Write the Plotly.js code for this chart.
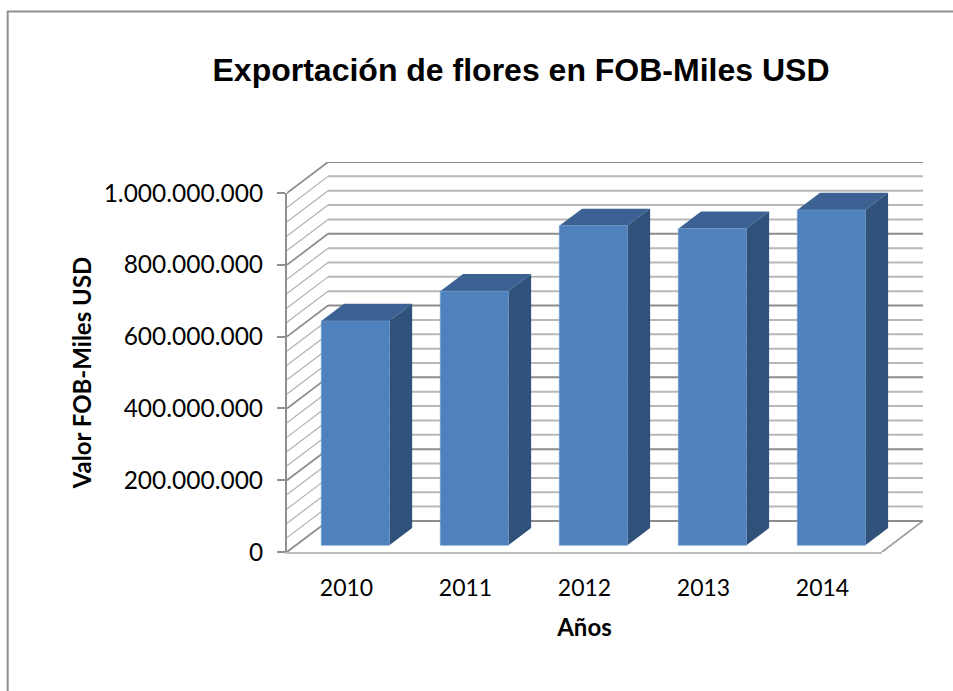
<!DOCTYPE html>
<html><head><meta charset="utf-8">
<script src="https://cdn.plot.ly/plotly-3.0.1.min.js"></script>
<style>html,body{margin:0;padding:0;background:#fff}#c{width:953px;height:691px}</style>
</head><body><div id="c"></div>
<script>
const years = ['2010','2011','2012','2013','2014'];
const values = [625000000, 708000000, 890000000, 882000000, 934000000];
const yTicks = [0,200000000,400000000,600000000,800000000,1000000000];
const yTickText = ['0','200.000.000','400.000.000','600.000.000','800.000.000','1.000.000.000'];
const chartTitle = 'Exportación de flores en FOB-Miles USD';
const yTitle = 'Valor FOB-Miles USD';
const xTitle = 'Años';
const gridStep = 40000000;

// oblique projection: how the depth axis maps onto the front-plane axes
const W=953,H=691, L=287,RF=881.7,RB=922.7,TF=193.3,TB=162.3,B=551.7;
const depthX = 0.345, depthY = 86500000;
const barFront = 0.215, barBack = 0.77, barWidth = 0.572;
const xMin=-0.5, xMax=4.5, yMax=1000000000;

const lf = (arr)=>{const x=[],y=[];arr.forEach(s=>{s.forEach(p=>{x.push(p[0]);y.push(p[1]);});x.push(null);y.push(null);});return {x,y};};
const levels=[];for(let i=0;i<=25;i++)levels.push(i*gridStep);
const isMajor=v=>v%200000000===0;
const diag=v=>[[xMin,v],[xMin+depthX,v+depthY]];
const back=v=>[[xMin+depthX,v+depthY],[xMax+depthX,v+depthY]];
function lineTrace(segs,color,width){const d=lf(segs);return {x:d.x,y:d.y,mode:'lines',type:'scatter',line:{color,width},hoverinfo:'skip',showlegend:false,xaxis:'x',yaxis:'y'};}

const minor=levels.filter(v=>!isMajor(v)), major=levels.filter(isMajor);
const traces=[
  lineTrace(minor.map(diag),'#b0b0b0',1.2),
  lineTrace(minor.map(back),'#b8b8b8',2),
  lineTrace(major.map(diag),'#8f8f8f',1.8),
  lineTrace(major.map(back),'#8c8c8c',2),
  lineTrace([[[xMax,0],[xMax+depthX,depthY]]],'#a0a0a0',1.8)
];
const xf=i=>i-barWidth/2+barFront*depthX;
const base=barFront*depthY, dd=barBack-barFront;
values.forEach((v,i)=>{
  const xl=xf(i),xr=xl+barWidth,top=v+base;
  traces.push({type:'scatter',mode:'lines',fill:'toself',fillcolor:'#3b6292',line:{width:0,color:'#3b6292'},hoverinfo:'skip',showlegend:false,
    x:[xl,xr,xr+dd*depthX,xl+dd*depthX,xl],y:[top,top,top+dd*depthY,top+dd*depthY,top]});
  traces.push({type:'scatter',mode:'lines',fill:'toself',fillcolor:'#305179',line:{width:0,color:'#305179'},hoverinfo:'skip',showlegend:false,
    x:[xr,xr+dd*depthX,xr+dd*depthX,xr,xr],y:[base,base+dd*depthY,top+dd*depthY,top,base]});
});
traces.push({type:'bar',x:years.map((_,i)=>i+barFront*depthX),y:values,base:years.map(()=>base),width:barWidth,
  marker:{color:'#4f81bd',line:{color:'#6f9bd0',width:0.6}},xaxis:'x2',yaxis:'y2',hoverinfo:'skip',showlegend:false});

const px=p=>(p-L)/(RB-L), py=p=>(B-p)/(B-TB);
const frame={color:'#8f8f8f',width:2};
const layout={
  width:W,height:H,margin:{l:L,r:W-RB,t:TB,b:H-B,pad:0},paper_bgcolor:'#fff',plot_bgcolor:'rgba(0,0,0,0)',showlegend:false,
  title:{text:'<b>'+chartTitle+'</b>',font:{family:'Liberation Sans',size:32,color:'#000'},x:521/W,xanchor:'center',xref:'container',y:1-70/H,yanchor:'middle',yref:'container'},
  xaxis:{range:[xMin,xMax+depthX],domain:[0,1],visible:false,fixedrange:true},
  yaxis:{range:[0,yMax+depthY],domain:[0,1],visible:false,fixedrange:true},
  xaxis2:{range:[xMin,xMax],domain:[0,px(RF)],anchor:'y2',tickmode:'array',tickvals:years.map((_,i)=>i),ticktext:years,ticks:'',showgrid:false,zeroline:false,showline:true,linecolor:'#bdbdbd',linewidth:2,
    tickfont:{family:'Lato',size:23,color:'#000'},ticklabelstandoff:14,fixedrange:true,
    title:{text:'<b>'+xTitle+'</b>',font:{family:'Lato',size:24,color:'#000'},standoff:20}},
  yaxis2:{range:[0,yMax],domain:[0,py(TF)],anchor:'x2',tickmode:'array',tickvals:yTicks,ticktext:yTickText,ticks:'outside',ticklen:8,tickwidth:2,tickcolor:'#8f8f8f',showgrid:false,zeroline:false,showline:true,linecolor:'#8f8f8f',linewidth:2,
    tickfont:{family:'Lato',size:24.5,color:'#000'},ticklabelstandoff:9,fixedrange:true,
    title:{text:'<b>'+yTitle+'</b>',font:{family:'Lato',size:24,color:'#000'},standoff:5}},
  shapes:[
    {type:'line',xref:'paper',yref:'paper',x0:px(7.8),x1:px(7.8),y0:py(12),y1:py(H),line:frame},
    {type:'line',xref:'paper',yref:'paper',x0:px(7),x1:px(W),y0:py(12),y1:py(12),line:frame}
  ]
};
Plotly.newPlot('c',traces,layout,{displayModeBar:false,staticPlot:true});
</script></body></html>
